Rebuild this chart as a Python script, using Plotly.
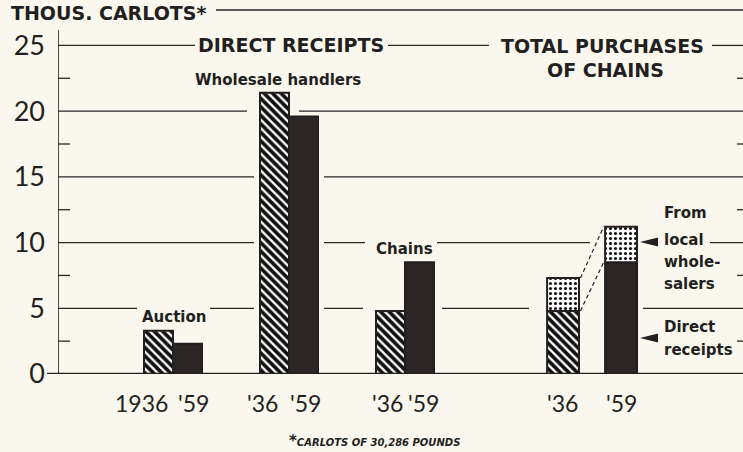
import plotly.graph_objects as go

# ---------------- data ----------------
groups = ["Auction", "Wholesale handlers", "Chains", "Total purchases of chains"]
direct_1936 = [3.3, 21.4, 4.8, 4.8]
direct_1959 = [2.3, 19.6, 8.5, 8.5]
local_wholesalers_total = [2.5, 2.7]   # 1936, 1959 (total purchases of chains)
labels_1936 = ["1936", "'36", "'36", "'36"]
labels_1959 = ["'59", "'59", "'59", "'59"]
ytick_vals = [0, 5, 10, 15, 20, 25]
ytick_text = ["0", "5", "10", "15", "20", "25"]
minor_vals = [2.5, 7.5, 12.5, 17.5, 22.5]

# ---------------- layout / style ----------------
W, H = 743, 452
ML, MR, MT, MB = 58, 0, 6, 78
PLOT_W = W - ML - MR
PLOT_H = H - MT - MB
YMAX = 28.0
UNIT = 29.0                  # px per x unit
X0 = 4 - 115 / UNIT
XMAX = X0 + PLOT_W / UNIT

BG = "#FAF8EE"
INK = "#231F20"
DARK = "#2B2526"
PAPERW = "#FDFCF6"

group_center = [4, 8, 12, 18.45]
pair_half = [0.5, 0.5, 0.5, 1.0]
bar_w = [1.0, 1.0, 1.0, 1.1]
label_shift_36 = [-17, -12, -3, -1]
label_shift_59 = [6, 2, 4, 0]


def px_x(p):
    return X0 + (p - ML) / UNIT


def px_y(p):
    return (MT + PLOT_H - p) * YMAX / PLOT_H


def pp_x(p):
    return (p - ML) / PLOT_W


def pp_y(p):
    return (MT + PLOT_H - p) / PLOT_H


def data_to_paper_x(xv):
    return (xv - X0) / (XMAX - X0)


x36 = [c - h for c, h in zip(group_center, pair_half)]
x59 = [c + h for c, h in zip(group_center, pair_half)]

fig = go.Figure()

fig.add_trace(go.Bar(
    x=x36, y=direct_1936, width=bar_w, name="1936",
    marker=dict(color=PAPERW, line=dict(color=INK, width=2),
                pattern=dict(shape="\\", fgcolor="#111111", bgcolor="#FFFFFF", fgopacity=1,
                             size=6, solidity=0.62)),
    hoverinfo="skip", showlegend=False))

fig.add_trace(go.Bar(
    x=x59, y=direct_1959, width=bar_w, name="1959",
    marker=dict(color=DARK, line=dict(color=INK, width=2)),
    hoverinfo="skip", showlegend=False))

tot_x = [x36[3], x59[3]]
tot_base = [direct_1936[3], direct_1959[3]]
fig.add_trace(go.Bar(
    x=tot_x, y=local_wholesalers_total, base=tot_base, width=[bar_w[3], bar_w[3]],
    name="From local wholesalers",
    marker=dict(color="#FFFFFF", line=dict(color=INK, width=2),
                pattern=dict(shape=".", fgcolor="#111111", bgcolor="#FFFFFF", fgopacity=1,
                             size=5, solidity=0.3)),
    hoverinfo="skip", showlegend=False))

shapes = []
LINE = dict(color="#2A2627", width=1.3)

# gridline segments (pixel x ranges with gaps around labels and bars)
grid_segments = {
    25: [(58, 195), (388, 489), (712, 743)],
    20: [(58, 247), (299, 743)],
    15: [(58, 254), (324, 743)],
    10: [(58, 254), (324, 365), (437, 590), (710, 743)],
    5: [(58, 137), (210, 254), (324, 363), (442, 529), (643, 743)],
}
for yv, segs in grid_segments.items():
    for a, b in segs:
        shapes.append(dict(type="line", xref="x", yref="y", x0=px_x(a), x1=px_x(b),
                           y0=yv, y1=yv, line=LINE, layer="below"))

# top rule next to unit title
shapes.append(dict(type="line", xref="x", yref="y", x0=px_x(216), x1=px_x(743),
                   y0=px_y(10), y1=px_y(10), line=LINE))
# y axis line
shapes.append(dict(type="line", xref="x", yref="y", x0=px_x(58), x1=px_x(58),
                   y0=0, y1=px_y(30), line=dict(color=INK, width=1.6)))
# baseline
shapes.append(dict(type="line", xref="paper", yref="y", x0=pp_x(47), x1=pp_x(743),
                   y0=0, y1=0, line=dict(color=INK, width=2.6)))
# minor ticks left and right
for mv in minor_vals:
    shapes.append(dict(type="line", xref="x", yref="y", x0=px_x(58), x1=px_x(70),
                       y0=mv, y1=mv, line=LINE))
    shapes.append(dict(type="line", xref="x", yref="y", x0=px_x(737), x1=px_x(743),
                       y0=mv, y1=mv, line=LINE))

# dashed connectors between total bars
r36 = x36[3] + bar_w[3] / 2
l59 = x59[3] - bar_w[3] / 2
top36 = direct_1936[3] + local_wholesalers_total[0]
top59 = direct_1959[3] + local_wholesalers_total[1]
for ya, yb in [(top36, top59), (direct_1936[3], direct_1959[3])]:
    shapes.append(dict(type="line", xref="x", yref="y", x0=r36 + 0.05, x1=l59 - 0.05,
                       y0=ya, y1=yb, line=dict(color=INK, width=1.2, dash="4px,3px")))

# pointer triangles
for py in [242, 338]:
    yc = px_y(py)
    h = 4.5 * YMAX / PLOT_H
    shapes.append(dict(type="path", xref="x", yref="y",
                       path=f"M {px_x(640)},{yc} L {px_x(658)},{yc + h} L {px_x(658)},{yc - h} Z",
                       fillcolor=INK, line=dict(width=0)))

ann = []
HEAD = dict(family="DejaVu Sans", size=19, color=INK, weight="bold")
LAB = dict(family="DejaVu Sans", size=15, color=INK, weight="bold")


def add_text(text, px, py, font, xanchor="center"):
    ann.append(dict(text=text, x=pp_x(px), y=pp_y(py), xref="paper", yref="paper",
                    showarrow=False, xanchor=xanchor, yanchor="middle", font=font))


add_text("THOUS. CARLOTS*", 9, 13, HEAD, "left")
add_text("DIRECT RECEIPTS", 291, 45, HEAD)
add_text("TOTAL PURCHASES", 602, 46, HEAD)
add_text("OF CHAINS", 605, 70, HEAD)
add_text("Wholesale handlers", 278, 80, LAB)
add_text("Auction", 174, 317, LAB)
add_text("Chains", 404, 249, LAB)
for t, py in [("From", 213), ("local", 240), ("whole-", 262), ("salers", 284),
              ("Direct", 327), ("receipts", 350)]:
    add_text(t, 662, py, LAB, "left")

# year labels under bars
YEARF = dict(family="Lato", size=23, color=INK)
for xs, labs, shifts in [(x36, labels_1936, label_shift_36), (x59, labels_1959, label_shift_59)]:
    for xv, lab, sh in zip(xs, labs, shifts):
        ann.append(dict(text=lab, x=data_to_paper_x(xv), y=pp_y(403), xref="paper", yref="paper",
                        xshift=sh, showarrow=False, xanchor="center", yanchor="middle", font=YEARF))

# footnote
ann.append(dict(text="<span style='font-size:15px'>*</span>CARLOTS OF 30,286 POUNDS",
                x=pp_x(287), y=pp_y(441), xref="paper", yref="paper", showarrow=False,
                xanchor="left", yanchor="middle",
                font=dict(family="DejaVu Sans", size=10, color=INK, weight="bold", style="italic")))

fig.update_layout(
    width=W, height=H, autosize=False,
    margin=dict(l=ML, r=MR, t=MT, b=MB, pad=0),
    paper_bgcolor=BG, plot_bgcolor=BG,
    barmode="overlay", bargap=0,
    shapes=shapes, annotations=ann,
    xaxis=dict(range=[X0, XMAX], visible=False, fixedrange=True),
    yaxis=dict(range=[0, YMAX], tickvals=ytick_vals, ticktext=ytick_text,
               tickfont=dict(family="Lato", size=27, color=INK),
               showgrid=False, zeroline=False, showline=False, ticks="",
               ticklabelstandoff=12, fixedrange=True),
    showlegend=False,
)

fig.write_html("out.html", config={"displayModeBar": False, "staticPlot": True},
               post_script="document.body.style.margin='0';document.body.style.background='" + BG + "';")
